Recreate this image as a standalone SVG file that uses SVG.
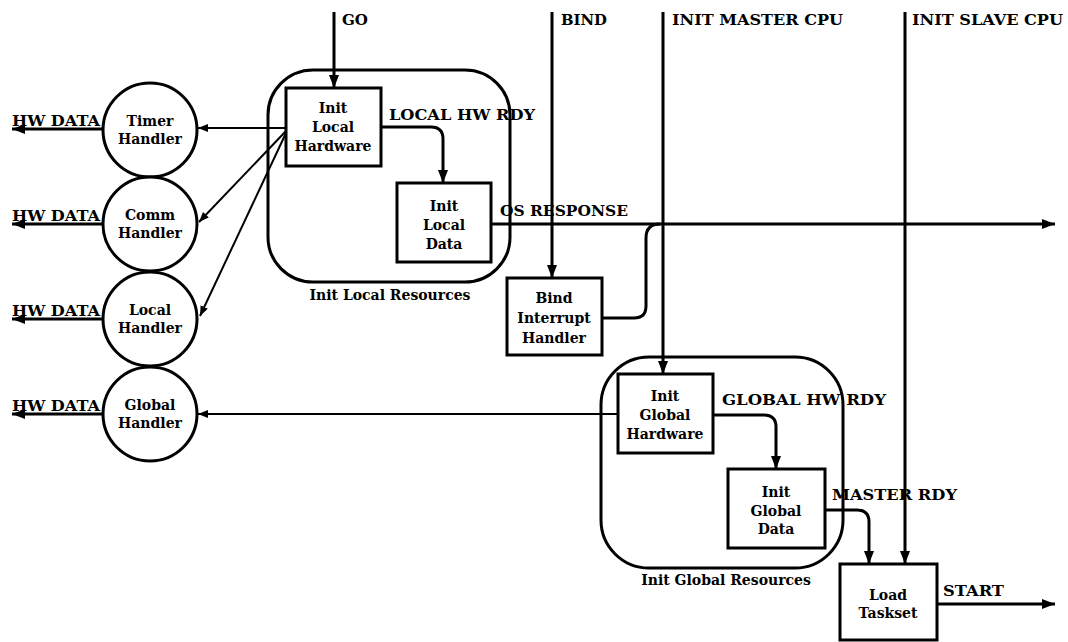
<svg xmlns="http://www.w3.org/2000/svg" width="1068" height="642" viewBox="0 0 1068 642">
<style>
text{font-family:"DejaVu Serif","Liberation Serif",serif;font-weight:bold;fill:#000}
.lbl{font-size:14px}
.nt{font-size:14px;text-anchor:middle}
.shape{fill:none;stroke:#000;stroke-width:3}
.box{fill:#fff;stroke:#000;stroke-width:3}
.flow{fill:none;stroke:#000;stroke-width:3}
.thin{fill:none;stroke:#000;stroke-width:2}
</style>
<defs>
<marker id="ah" markerUnits="userSpaceOnUse" markerWidth="14" markerHeight="12" refX="13" refY="5" orient="auto">
<path d="M0,0 L13,5 L0,10 z" fill="#000"/>
</marker>
<marker id="ahs" markerUnits="userSpaceOnUse" markerWidth="12" markerHeight="10" refX="10" refY="4" orient="auto">
<path d="M0,0 L10,4 L0,8 z" fill="#000"/>
</marker>
</defs>
<rect width="1068" height="642" fill="#fff"/>

<g id="connectors">
<path class="flow" d="M103,129 H12" marker-end="url(#ah)"/>
<path class="flow" d="M103,224 H12" marker-end="url(#ah)"/>
<path class="flow" d="M103,319 H12" marker-end="url(#ah)"/>
<path class="flow" d="M103,414 H12" marker-end="url(#ah)"/>
<path class="thin" d="M286,128 H198" marker-end="url(#ahs)"/>
<path class="thin" d="M286,131 L199,222" marker-end="url(#ahs)"/>
<path class="thin" d="M286,133 L200,316" marker-end="url(#ahs)"/>
<path class="flow" d="M334,12 V88" marker-end="url(#ah)"/>
<path class="flow" d="M381,127 H431 Q443,127 443,139 V183" marker-end="url(#ah)"/>
<path class="flow" d="M491,224 H1055" marker-end="url(#ah)"/>
<path class="flow" d="M552,12 V278" marker-end="url(#ah)"/>
<path class="flow" d="M602,318 H634 Q646,318 646,306 V238 Q646,224 660,224"/>
<path class="flow" d="M663,12 V374" marker-end="url(#ah)"/>
<path class="flow" d="M905,12 V564" marker-end="url(#ah)"/>
<path class="flow" d="M713,415 H764 Q776,415 776,427 V469" marker-end="url(#ah)"/>
<path class="thin" d="M618,414 H198" marker-end="url(#ahs)"/>
<path class="flow" d="M825,510 H857 Q869,510 869,522 V564" marker-end="url(#ah)"/>
<path class="flow" d="M937,604 H1055" marker-end="url(#ah)"/>
<text class="lbl" x="12" y="126" textLength="88" lengthAdjust="spacingAndGlyphs">HW DATA</text>
<text class="lbl" x="12" y="221" textLength="88" lengthAdjust="spacingAndGlyphs">HW DATA</text>
<text class="lbl" x="12" y="316" textLength="88" lengthAdjust="spacingAndGlyphs">HW DATA</text>
<text class="lbl" x="12" y="411" textLength="88" lengthAdjust="spacingAndGlyphs">HW DATA</text>
<text class="lbl" x="342" y="25" textLength="26" lengthAdjust="spacingAndGlyphs">GO</text>
<text class="lbl" x="561" y="25" textLength="46" lengthAdjust="spacingAndGlyphs">BIND</text>
<text class="lbl" x="672" y="25" textLength="171" lengthAdjust="spacingAndGlyphs">INIT MASTER CPU</text>
<text class="lbl" x="912" y="25" textLength="151" lengthAdjust="spacingAndGlyphs">INIT SLAVE CPU</text>
<text class="lbl" x="389" y="120" textLength="146" lengthAdjust="spacingAndGlyphs">LOCAL HW RDY</text>
<text class="lbl" x="500" y="216" textLength="128" lengthAdjust="spacingAndGlyphs">OS RESPONSE</text>
<text class="lbl" x="722" y="405" textLength="164" lengthAdjust="spacingAndGlyphs">GLOBAL HW RDY</text>
<text class="lbl" x="832" y="500" textLength="125" lengthAdjust="spacingAndGlyphs">MASTER RDY</text>
<text class="lbl" x="943" y="596" textLength="61" lengthAdjust="spacingAndGlyphs">START</text>
</g>

<g id="init-local-resources">
<rect class="shape" x="268" y="70" width="242" height="212" rx="45"/>
<text class="nt" x="390" y="300">Init Local Resources</text>
</g>
<g id="init-global-resources">
<rect class="shape" x="601" y="357" width="242" height="211" rx="48"/>
<text class="nt" x="726" y="585">Init Global Resources</text>
</g>

<g id="timer-handler">
<circle class="box" cx="150" cy="130" r="47"/>
<text class="nt" x="150" y="126">Timer</text>
<text class="nt" x="150" y="144">Handler</text>
</g>
<g id="comm-handler">
<circle class="box" cx="150" cy="224" r="47"/>
<text class="nt" x="150" y="220">Comm</text>
<text class="nt" x="150" y="238">Handler</text>
</g>
<g id="local-handler">
<circle class="box" cx="150" cy="319" r="47"/>
<text class="nt" x="150" y="315">Local</text>
<text class="nt" x="150" y="333">Handler</text>
</g>
<g id="global-handler">
<circle class="box" cx="150" cy="414" r="47"/>
<text class="nt" x="150" y="410">Global</text>
<text class="nt" x="150" y="428">Handler</text>
</g>

<g id="init-local-hardware">
<rect class="box" x="286" y="88" width="95" height="78"/>
<text class="nt" x="333" y="113">Init</text>
<text class="nt" x="333" y="132">Local</text>
<text class="nt" x="333" y="151">Hardware</text>
</g>
<g id="init-local-data">
<rect class="box" x="397" y="183" width="94" height="79"/>
<text class="nt" x="444" y="211">Init</text>
<text class="nt" x="444" y="230">Local</text>
<text class="nt" x="444" y="249">Data</text>
</g>
<g id="bind-interrupt-handler">
<rect class="box" x="507" y="278" width="95" height="77"/>
<text class="nt" x="554" y="303">Bind</text>
<text class="nt" x="554" y="323">Interrupt</text>
<text class="nt" x="554" y="343">Handler</text>
</g>
<g id="init-global-hardware">
<rect class="box" x="618" y="374" width="95" height="79"/>
<text class="nt" x="665" y="401">Init</text>
<text class="nt" x="665" y="420">Global</text>
<text class="nt" x="665" y="439">Hardware</text>
</g>
<g id="init-global-data">
<rect class="box" x="728" y="469" width="97" height="79"/>
<text class="nt" x="776" y="497">Init</text>
<text class="nt" x="776" y="516">Global</text>
<text class="nt" x="776" y="534">Data</text>
</g>
<g id="load-taskset">
<rect class="box" x="840" y="564" width="97" height="76"/>
<text class="nt" x="888" y="600">Load</text>
<text class="nt" x="888" y="618">Taskset</text>
</g>
</svg>
